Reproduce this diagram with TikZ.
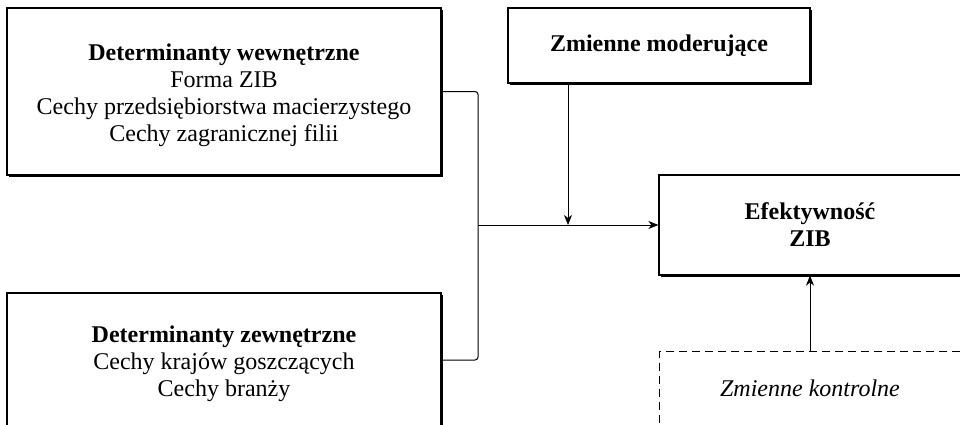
\documentclass[tikz,border=0pt]{standalone}
\usepackage{fontspec}
\setmainfont{Liberation Serif}
\usetikzlibrary{arrows.meta,shadows}
\newcommand{\topgap}{\rule{0pt}{12.5pt}}

\begin{document}
\begin{tikzpicture}[x=0.5pt, y=-0.5pt, font=\fontsize{12}{13.5}\selectfont,
  box/.style={draw, line width=0.6pt, fill=white, align=center, inner sep=0pt,
    drop shadow={shadow xshift=1pt, shadow yshift=-1pt, fill=black, opacity=1}},
  ctrlbox/.style={draw, line width=0.5pt, dash pattern=on 4pt off 2.5pt, align=center, inner sep=0pt},
  link/.style={line width=0.5pt},
  arr/.style={link, -{Stealth[length=5pt, width=4pt, inset=1.5pt]}}]
  \useasboundingbox (0,0) rectangle (960,424);
  \node[box, minimum width=217pt, minimum height=83.5pt] (wew) at (224,91.5) {\topgap\textbf{Determinanty wewnętrzne}\\Forma ZIB\\Cechy przedsiębiorstwa macierzystego\\Cechy zagranicznej filii};
  \node[box, minimum width=217pt, minimum height=67pt] (zew) at (224,360) {\topgap\textbf{Determinanty zewnętrzne}\\Cechy krajów goszczących\\Cechy branży};
  \node[box, minimum width=151pt, minimum height=37.5pt] (mod) at (659,45.5) {\textbf{Zmienne moderujące}};
  \node[box, minimum width=151pt, minimum height=50pt] (efe) at (810,225) {\textbf{Efektywność}\\\textbf{ZIB}};
  \node[ctrlbox, minimum width=151pt, minimum height=37pt] (kon) at (810,388.5) {\textit{Zmienne kontrolne}};
  \coordinate (join) at (478,225);
  \coordinate (modin) at (568,225);
  \draw[link, rounded corners=1.5pt] (wew.east) -- (join |- wew.east) -- (join |- zew.east) -- (zew.east);
  \draw[arr] (join) -- (efe.west);
  \draw[arr] (mod.south -| modin) -- (modin);
  \draw[arr] (kon.north) -- (efe.south);
\end{tikzpicture}
\end{document}
